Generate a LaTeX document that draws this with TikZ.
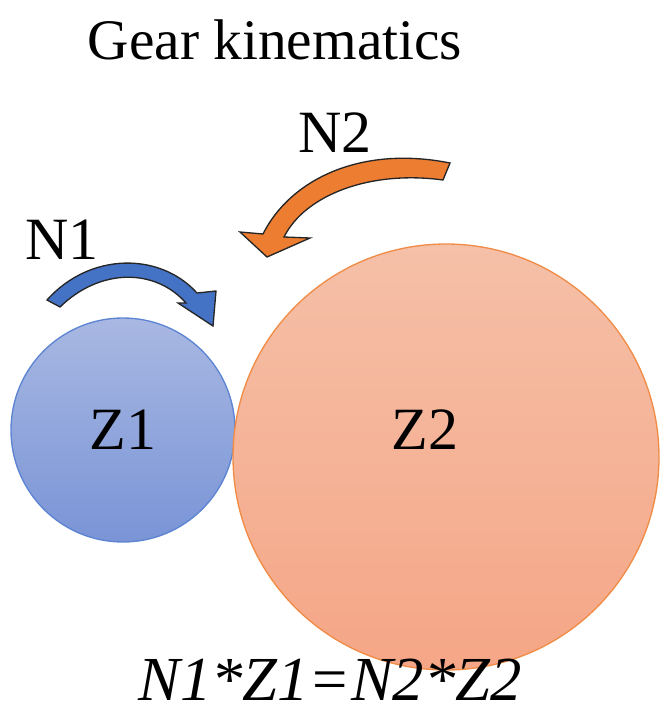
\documentclass[tikz,border=0pt]{standalone}
\usepackage{fontspec}
\setmainfont{Liberation Serif}
\begin{document}
\definecolor{bt}{RGB}{168,184,226}
\definecolor{bb}{RGB}{122,148,214}
\definecolor{bs}{RGB}{92,132,210}
\definecolor{ot}{RGB}{245,192,168}
\definecolor{ob}{RGB}{245,166,134}
\definecolor{os}{RGB}{240,140,70}
\definecolor{ba}{RGB}{68,114,196}
\definecolor{oa}{RGB}{237,125,49}
\begin{tikzpicture}[x=0.75pt,y=-0.75pt,
  lbl/.style={font=\fontsize{45}{48}\selectfont,inner sep=0pt},
  arr/.style={draw=black!85,line width=1pt,line join=miter}]
\useasboundingbox (0,0) rectangle (662,711);
\node[lbl,font=\fontsize{43}{46}\selectfont] (title) at (275,40) {Gear kinematics};
\shade[top color=bt,bottom color=bb,draw=bs,line width=1pt] (123,430) circle[radius=112];
\node[lbl] (z1) at (123,430) {Z1};
\shade[top color=ot,bottom color=ob,draw=os,line width=1pt] (446,457) circle[radius=213];
\node[lbl] (z2) at (425,430) {Z2};
\node[lbl] (n1) at (62,240) {N1};
\node[lbl] (n2) at (335,133) {N2};
\fill[ba] (47,300) .. controls (90,252) and (160,252) .. (197,293) -- (216,291) -- (213,326) -- (178,303) -- (186,303) .. controls (155,268) and (100,268) .. (60,307) -- cycle;
\draw[arr] (47,300) .. controls (90,252) and (160,252) .. (197,293) -- (216,291) -- (213,326) -- (178,303) -- (186,303) .. controls (155,268) and (100,268) .. (60,307) -- cycle;
\fill[oa] (450,163) .. controls (360,145) and (290,180) .. (263,234) -- (240,232) -- (267,257) -- (310,238) -- (284,237) .. controls (305,195) and (370,170) .. (443,180) -- cycle;
\draw[arr] (450,163) .. controls (360,145) and (290,180) .. (263,234) -- (240,232) -- (267,257) -- (310,238) -- (284,237) .. controls (305,195) and (370,170) .. (443,180) -- cycle;
\node[lbl,font=\fontsize{47}{50}\selectfont\itshape] (eq) at (330,680) {N1*Z1=N2*Z2};
\end{tikzpicture}
\end{document}
